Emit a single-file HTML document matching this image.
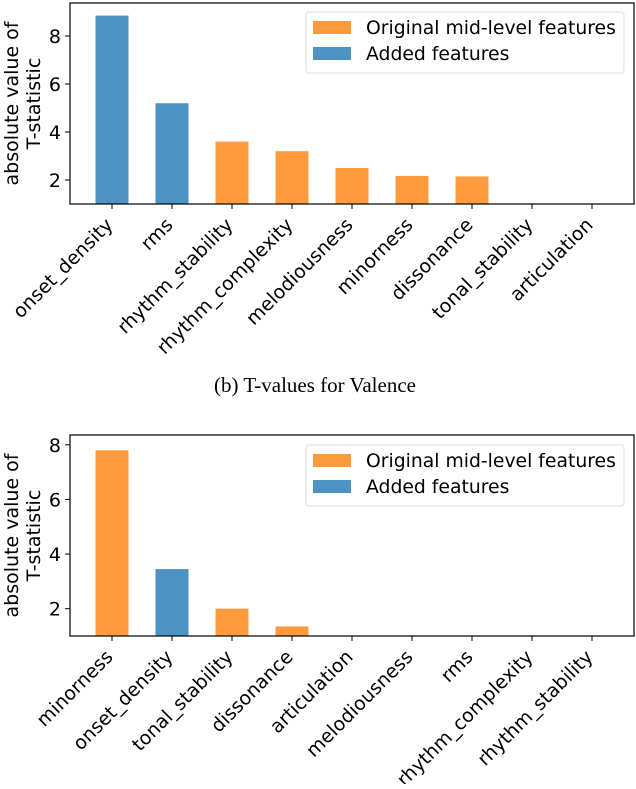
<!DOCTYPE html>
<html><head><meta charset="utf-8"><style>
body{margin:0;background:#fff;width:636px;height:784px;overflow:hidden}
svg text{font-family:"DejaVu Sans","Liberation Sans",sans-serif;fill:#000}
</style></head><body>
<svg id="svg" width="636" height="784" xmlns="http://www.w3.org/2000/svg">
<text x="315" y="392" text-anchor="middle" style="font-family:'Liberation Serif',serif;font-size:21px">(b) T-values for Valence</text>
</svg>
<script>
const catsA=["onset_density","rms","rhythm_stability","rhythm_complexity","melodiousness","minorness","dissonance","tonal_stability","articulation"];
const valsA=[8.85,5.2,3.6,3.2,2.5,2.17,2.15,0.9,0.9];
const groupA=[1,1,0,0,0,0,0,0,0];
const catsB=["minorness","onset_density","tonal_stability","dissonance","articulation","melodiousness","rms","rhythm_complexity","rhythm_stability"];
const valsB=[7.8,3.45,2.0,1.35,0.9,0.9,0.9,0.9,0.9];
const groupB=[0,1,0,0,0,0,0,0,0];
const ticksY=[2,4,6,8];
const colors=["#ff9a3e","#4c92c3"];
const legendLabels=["Original mid-level features","Added features"];
const NS="http://www.w3.org/2000/svg";
const svg=document.getElementById('svg');
function mk(tag,attrs,parent){const e=document.createElementNS(NS,tag);for(const k in attrs)e.setAttribute(k,attrs[k]);(parent||svg).appendChild(e);return e;}
function chart(cfg,cats,vals,grp){
 const g=mk('g',{});
 
 
 const L=70,R=634,T=cfg.top,B=cfg.bottom;
 const x=i=>L+(i+0.7)*(R-L)/9.4;
 const y=v=>B-(v-1)*(B-T)/(cfg.ymax-1);
 const bw=0.55*(R-L)/9.4;
 vals.forEach((v,i)=>{
  if(v<=1)return;
  const r=mk('rect',{x:x(i)-bw/2,y:y(v),width:bw,height:B-y(v),fill:colors[grp[i]]},g);
  
  
 });
 const ax=mk('rect',{x:L,y:T,width:R-L,height:B-T,fill:'none',stroke:'#000','stroke-width':1.2},g);
 
 
 ticksY.forEach(t=>{
  mk('line',{x1:L-5,x2:L,y1:y(t),y2:y(t),stroke:'#000'},g);
  const tx=mk('text',{x:L-9,y:y(t)+7,'text-anchor':'end','font-size':19},g);
  tx.textContent=t;
  
  
 });
 cats.forEach((c,i)=>{
  mk('line',{x1:x(i),x2:x(i),y1:B,y2:B+5,stroke:'#000'},g);
  const tx=mk('text',{transform:`translate(${x(i)+2},${B+22}) rotate(-45)`,'text-anchor':'end','font-size':19},g);
  tx.textContent=c;
  
  
 });
 const yc=(T+B)/2;
 const yl=mk('text',{transform:`translate(18,${yc}) rotate(-90)`,'text-anchor':'middle','font-size':19},g);
 yl.textContent='absolute value of';
 
 
 const yl2=mk('text',{transform:`translate(40,${yc}) rotate(-90)`,'text-anchor':'middle','font-size':19},g);
 yl2.textContent='T-statistic';
 
 
 const lt=cfg.legTop;
 const lg=mk('g',{},g);
 
 
 mk('rect',{x:306,y:lt,width:318,height:61,rx:3,fill:'#fff','fill-opacity':0.8,stroke:'#ddd'},lg);
 legendLabels.forEach((lab,k)=>{
  mk('rect',{x:313,y:lt+9+k*26,width:38,height:13,fill:colors[k]},lg);
  const t=mk('text',{x:366,y:lt+22+k*26,'font-size':18.8},lg);
  t.textContent=lab;
  
  
 });
}
chart({name:'chart-valence-top',top:3,bottom:204,ymax:9.375,legTop:12},catsA,valsA,groupA);
chart({name:'chart-bottom',top:435,bottom:636,ymax:8.36,legTop:445},catsB,valsB,groupB);
</script>
</body></html>
